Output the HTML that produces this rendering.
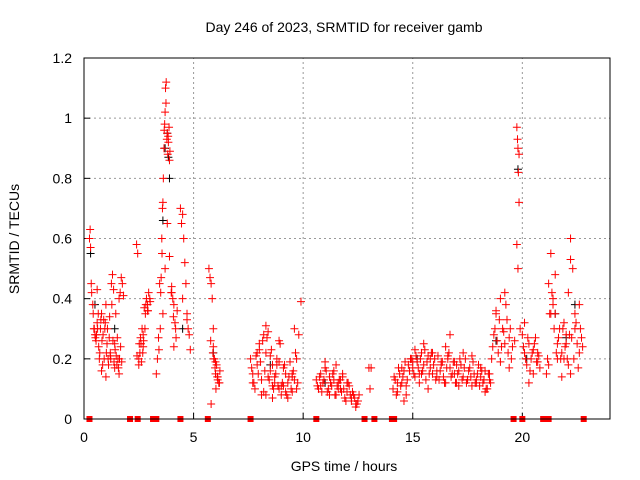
<!DOCTYPE html>
<html><head><meta charset="utf-8"><style>
html,body{margin:0;padding:0;background:#fff;}
svg{display:block;font-family:"Liberation Sans",sans-serif;}
</style></head><body>
<svg id="chart" width="640" height="480">
<text x="344" y="32" font-size="14" text-anchor="middle">Day 246 of 2023, SRMTID for receiver gamb</text>
<text x="344" y="471" font-size="14" text-anchor="middle">GPS time / hours</text>
<text transform="translate(19,239) rotate(-90)" font-size="14" text-anchor="middle">SRMTID / TECUs</text>
<g id="grid"></g><g id="ticks"></g><g id="marks"></g>
<rect x="84" y="58" width="526" height="361" fill="none" stroke="#000" stroke-width="1"/>
</svg>
<script>
const xTicks=[0,5,10,15,20];
const yTicks=[0,0.2,0.4,0.6,0.8,1,1.2];
const yTickLabels=["0","0.2","0.4","0.6","0.8","1","1.2"];
const redTimes=[0.25,0.28,0.3,0.33,0.35,0.4,0.45,0.5,0.55,0.6,0.65,0.7,0.75,0.8,0.85,0.9,0.95,1.0,1.05,1.1,1.15,1.2,1.25,1.3,1.35,1.4,1.45,1.5,1.55,1.6,1.65,1.7,1.75,1.8,0.6,0.8,1.0,1.2,1.4,1.6,
2.4,2.45,2.5,2.55,2.6,2.65,2.7,2.75,2.8,2.85,2.9,2.95,3.0,2.5,2.7,2.9,
3.3,3.35,3.4,3.45,3.5,3.55,3.6,3.62,3.65,3.68,3.7,3.72,3.75,3.78,3.8,3.82,3.85,3.88,3.9,3.6,3.7,3.8,3.9,4.0,4.05,4.1,4.15,4.2,4.0,4.1,
4.4,4.45,4.5,4.55,4.6,4.65,4.7,4.75,4.8,4.85,4.5,4.7,
5.7,5.75,5.8,5.85,5.9,5.95,6.0,6.05,6.1,6.15,6.2,5.8,5.9,6.0,6.1,
7.6,7.7,7.8,7.9,8.0,8.1,8.2,8.3,8.4,8.5,8.6,8.7,8.8,8.9,9.0,9.1,9.2,9.3,9.4,9.5,9.6,9.7,9.8,7.7,7.9,8.1,8.3,8.5,8.7,8.9,9.1,9.3,9.5,9.7,9.9,8.2,8.4,8.6,8.8,9.0,9.6,9.65,
10.6,10.7,10.8,10.9,11.0,11.1,11.2,11.3,11.4,11.5,11.6,11.7,11.8,11.9,12.0,12.1,12.2,12.3,12.4,12.5,10.8,11.0,11.2,11.4,11.6,11.8,12.0,12.2,12.4,11.5,11.7,
13.0,13.05,13.1,
14.1,14.2,14.3,14.4,14.5,14.6,14.7,14.8,14.9,15.0,15.1,15.2,15.3,15.4,15.5,15.6,15.7,15.8,15.9,16.0,16.1,16.2,16.3,16.4,16.5,16.6,16.7,16.8,16.9,17.0,17.1,17.2,17.3,17.4,17.5,17.6,17.7,17.8,17.9,18.0,18.1,18.2,18.3,18.4,18.5,
14.3,14.5,14.7,14.9,15.1,15.3,15.5,15.7,15.9,16.1,16.3,16.5,16.7,16.9,17.1,17.3,17.5,17.7,17.9,18.1,18.3,18.5,14.6,15.0,15.4,15.8,16.6,17.0,
18.6,18.7,18.8,18.9,19.0,19.1,19.2,19.3,19.4,19.5,18.8,19.0,19.2,19.4,
19.75,19.78,19.8,19.82,19.85,19.75,19.8,19.85,19.9,
20.0,20.1,20.2,20.3,20.4,20.5,20.6,20.7,20.8,20.1,20.3,20.5,20.7,
21.1,21.2,21.3,21.4,21.5,21.6,21.7,21.8,21.9,22.0,22.1,22.2,22.3,22.4,22.5,22.6,22.7,21.2,21.4,21.6,21.8,22.0,22.2,22.4,22.6,21.3,21.5,21.9,22.1,22.15,22.2];
const redValues=[0.6,0.63,0.57,0.45,0.42,0.38,0.3,0.28,0.26,0.32,0.35,0.2,0.3,0.35,0.18,0.33,0.3,0.38,0.25,0.2,0.27,0.22,0.45,0.48,0.43,0.25,0.35,0.18,0.2,0.4,0.42,0.47,0.45,0.41,0.43,0.16,0.14,0.21,0.17,0.15,
0.58,0.55,0.2,0.22,0.25,0.3,0.28,0.37,0.35,0.4,0.38,0.42,0.4,0.18,0.24,0.36,
0.15,0.2,0.27,0.45,0.42,0.6,0.72,0.8,0.9,0.98,1.02,1.1,1.12,0.93,0.95,0.88,0.92,0.97,0.86,0.35,0.5,0.65,0.54,0.42,0.4,0.38,0.32,0.27,0.44,0.24,
0.7,0.65,0.68,0.6,0.52,0.45,0.35,0.3,0.28,0.23,0.4,0.33,
0.5,0.47,0.45,0.4,0.3,0.2,0.15,0.18,0.13,0.12,0.16,0.05,0.24,0.19,0.14,
0.2,0.15,0.1,0.22,0.25,0.13,0.28,0.31,0.29,0.21,0.18,0.14,0.2,0.1,0.08,0.17,0.15,0.12,0.19,0.09,0.13,0.1,0.28,0.12,0.18,0.08,0.22,0.16,0.12,0.26,0.11,0.07,0.15,0.2,0.39,0.09,0.14,0.07,0.18,0.11,0.3,0.22,
0.13,0.1,0.15,0.12,0.17,0.09,0.14,0.11,0.16,0.08,0.12,0.1,0.14,0.07,0.09,0.11,0.06,0.08,0.05,0.06,0.11,0.19,0.08,0.13,0.1,0.15,0.12,0.07,0.04,0.18,0.13,
0.17,0.1,0.17,
0.1,0.13,0.09,0.15,0.12,0.16,0.11,0.18,0.2,0.17,0.14,0.19,0.15,0.22,0.18,0.13,0.21,0.17,0.15,0.2,0.16,0.13,0.18,0.14,0.24,0.2,0.17,0.15,0.19,0.12,0.16,0.18,0.14,0.2,0.13,0.17,0.11,0.15,0.13,0.18,0.14,0.12,0.16,0.1,0.13,
0.12,0.17,0.08,0.2,0.23,0.12,0.25,0.1,0.22,0.14,0.19,0.12,0.28,0.15,0.11,0.22,0.13,0.21,0.12,0.17,0.09,0.15,0.06,0.19,0.15,0.2,0.21,0.18,
0.2,0.28,0.35,0.22,0.4,0.3,0.25,0.33,0.27,0.2,0.36,0.19,0.42,0.17,
0.97,0.93,0.9,0.82,0.72,0.58,0.5,0.88,0.3,
0.28,0.22,0.18,0.25,0.2,0.15,0.27,0.22,0.17,0.32,0.12,0.23,0.19,
0.15,0.45,0.55,0.4,0.35,0.25,0.3,0.22,0.2,0.28,0.18,0.6,0.5,0.35,0.25,0.38,0.27,0.18,0.38,0.2,0.14,0.25,0.15,0.3,0.22,0.35,0.48,0.32,0.42,0.28,0.53,0.61];
const redTimes2=[0.42,0.47,0.52,0.57,0.62,0.67,0.72,0.77,0.82,0.87,0.92,0.97,1.02,1.07,1.12,1.17,1.22,1.27,1.32,1.37,1.42,1.47,1.52,1.57,1.62,1.67,1.72,
2.42,2.52,2.62,2.72,2.82,2.92,3.02,2.58,2.68,2.78,
3.42,3.52,3.58,3.66,3.74,3.84,3.92,3.98,4.08,4.18,4.25,3.48,3.56,
5.78,5.88,5.98,6.08,6.18,5.92,6.02,
7.65,7.75,7.85,7.95,8.05,8.15,8.25,8.35,8.45,8.55,8.65,8.75,8.85,8.95,9.05,9.15,9.25,9.35,9.45,9.55,9.75,8.0,8.3,8.6,8.9,9.2,9.5,
10.65,10.75,10.85,10.95,11.05,11.15,11.25,11.35,11.45,11.55,11.65,11.75,11.85,11.95,12.05,12.15,12.25,12.35,12.45,12.55,
14.15,14.25,14.35,14.45,14.55,14.65,14.75,14.85,14.95,15.05,15.15,15.25,15.35,15.45,15.55,15.65,15.75,15.85,15.95,16.05,16.15,16.25,16.35,16.45,16.55,16.65,16.75,16.85,16.95,17.05,17.15,17.25,17.35,17.45,17.55,17.65,17.75,17.85,17.95,18.05,18.15,18.25,18.35,18.45,18.55,
18.65,18.75,18.85,18.95,19.05,19.15,19.25,19.35,19.45,19.55,19.65,
20.05,20.15,20.25,20.35,20.45,20.55,20.65,20.75,
21.15,21.25,21.35,21.45,21.55,21.65,21.75,21.85,21.95,22.05,22.25,22.35,22.45,22.55,22.65,22.75];
const redValues2=[0.35,0.3,0.27,0.28,0.3,0.24,0.22,0.33,0.26,0.28,0.2,0.32,0.22,0.3,0.18,0.34,0.2,0.38,0.26,0.19,0.23,0.21,0.27,0.17,0.2,0.24,0.19,
0.21,0.25,0.19,0.26,0.38,0.36,0.39,0.27,0.22,0.3,
0.23,0.47,0.7,0.96,1.05,0.94,0.89,0.42,0.34,0.3,0.36,0.3,0.55,
0.26,0.22,0.17,0.14,0.12,0.2,0.1,
0.17,0.12,0.21,0.15,0.19,0.26,0.16,0.27,0.13,0.23,0.1,0.15,0.11,0.25,0.12,0.18,0.08,0.14,0.1,0.16,0.12,0.23,0.08,0.11,0.19,0.09,0.14,
0.11,0.14,0.09,0.13,0.16,0.1,0.12,0.15,0.08,0.11,0.13,0.09,0.1,0.06,0.12,0.08,0.09,0.07,0.05,0.08,
0.14,0.08,0.17,0.11,0.14,0.19,0.13,0.16,0.2,0.15,0.21,0.17,0.2,0.16,0.23,0.19,0.15,0.22,0.18,0.13,0.21,0.16,0.19,0.12,0.17,0.22,0.14,0.19,0.12,0.15,0.2,0.13,0.17,0.12,0.16,0.14,0.19,0.12,0.15,0.11,0.16,0.13,0.1,0.15,0.12,
0.24,0.3,0.26,0.33,0.24,0.29,0.38,0.22,0.3,0.24,0.26,
0.24,0.2,0.27,0.16,0.22,0.25,0.19,0.21,
0.2,0.35,0.42,0.3,0.22,0.27,0.2,0.3,0.24,0.2,0.27,0.2,0.32,0.17,0.3,0.24];
const blackTimes=[0.3,0.5,1.4,3.6,3.7,3.8,3.85,3.9,4.5,5.9,8.5,11.0,15.2,18.8,19.8,20.2,21.5,22.0,22.4];
const blackValues=[0.55,0.38,0.3,0.66,0.9,0.95,0.87,0.8,0.3,0.22,0.18,0.12,0.2,0.26,0.83,0.2,0.35,0.27,0.38];
const zeroTimes=[0.25,2.1,2.45,3.15,3.3,4.4,5.65,7.6,10.6,12.8,13.25,14.05,14.15,19.6,20.0,20.95,21.2,22.8];
const X0=84,X1=610,Y0=419,Y1=58,XMAX=24,YMAX=1.2;
const xs=t=>X0+(X1-X0)*t/XMAX, ys=v=>Y0-(Y0-Y1)*v/YMAX;
const NS="http://www.w3.org/2000/svg";
function mk(tag,attrs,parent){const e=document.createElementNS(NS,tag);for(const k in attrs)e.setAttribute(k,attrs[k]);document.getElementById(parent).appendChild(e);return e;}
xTicks.forEach((t,i)=>{
 if(t>0){const g=mk('line',{x1:xs(t),x2:xs(t),y1:Y0,y2:Y1,stroke:'#999','stroke-dasharray':'2,3'},'grid');
 
 }
 const tk=mk('line',{x1:xs(t),x2:xs(t),y1:Y0,y2:Y0-6,stroke:'#000'},'ticks');
 
 
 const lb=mk('text',{x:xs(t),y:Y0+23,'font-size':14,'text-anchor':'middle'},'ticks');lb.textContent=t;
 
 
});
yTicks.forEach((v,i)=>{
 if(v>0&&v<1.2){const g=mk('line',{x1:X0,x2:X1,y1:ys(v),y2:ys(v),stroke:'#999','stroke-dasharray':'2,3'},'grid');
 
 }
 const tk=mk('line',{x1:X0,x2:X0+6,y1:ys(v),y2:ys(v),stroke:'#000'},'ticks');
 
 
 const lb=mk('text',{x:X0-12,y:ys(v)+5,'font-size':14,'text-anchor':'end'},'ticks');lb.textContent=yTickLabels[i];
 
 
});
function plus(t,v,c,name){const x=xs(t),y=ys(v);
 const p=mk('path',{d:`M${x-4},${y}H${x+4}M${x},${y-4}V${y+4}`,stroke:c,'stroke-width':1,fill:'none'},'marks');
 
 }
blackTimes.forEach((t,i)=>plus(t,blackValues[i],'#000','black-point'));
redTimes.forEach((t,i)=>plus(t,redValues[i],'#f00','red-point'));
redTimes2.forEach((t,i)=>plus(t,redValues2[i],'#f00','red-point'));
zeroTimes.forEach(t=>{const r=mk('rect',{x:xs(t)-3,y:Y0-3,width:6,height:6,fill:'#f00'},'marks');
 
 });
</script>
</body></html>
